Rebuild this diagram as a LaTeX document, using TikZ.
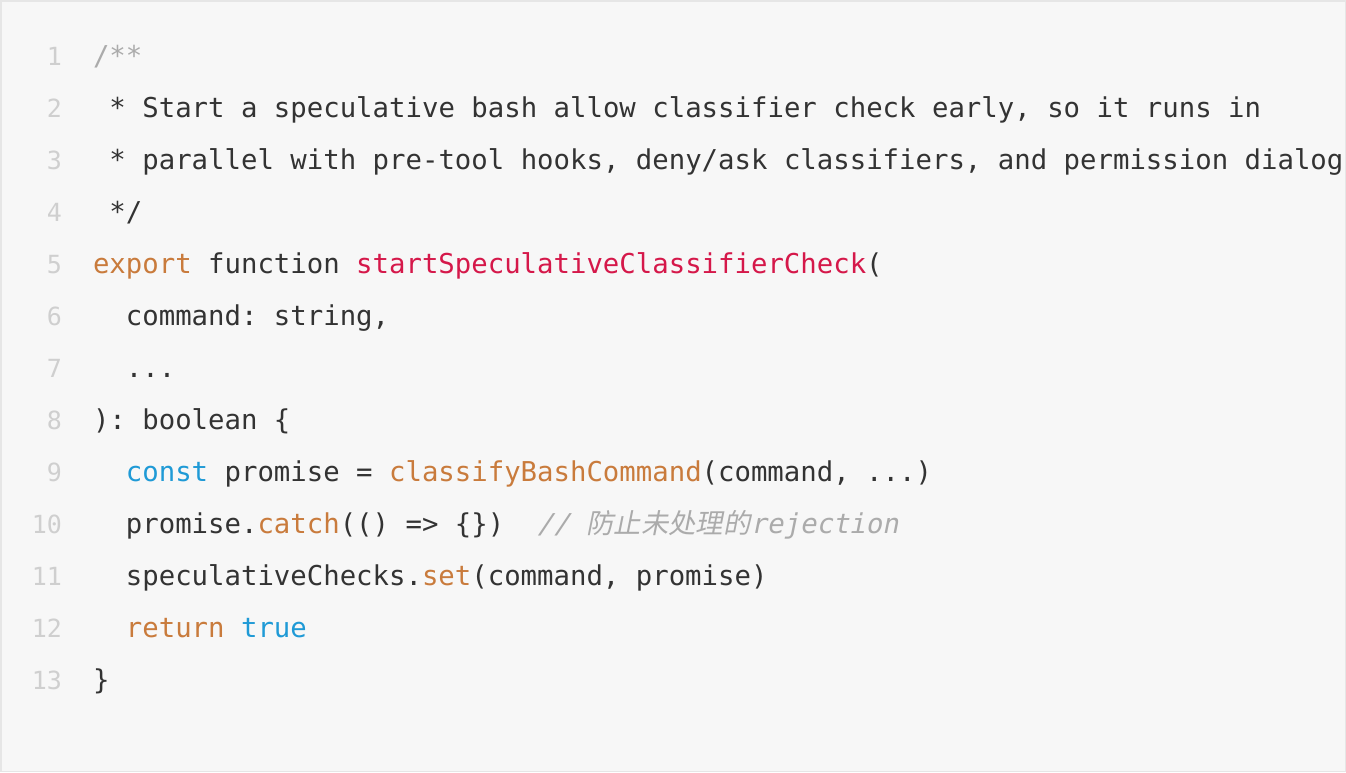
\documentclass[tikz,border=0pt]{standalone}
\usepackage{fontspec}
\newfontfamily\code{DejaVu Sans Mono}
\newfontfamily\codeit[FakeSlant=0.2]{DejaVu Sans Mono}
\newfontfamily\cjk[FakeSlant=0.2]{Noto Sans CJK SC}
\frenchspacing
\definecolor{bgc}{HTML}{F7F7F7}
\definecolor{frame}{HTML}{E6E6E6}
\definecolor{txt}{HTML}{333333}
\definecolor{lnum}{HTML}{CFCFCF}
\definecolor{cmt}{HTML}{ABABAB}
\definecolor{kwo}{HTML}{C97B3C}
\definecolor{fnr}{HTML}{D5184A}
\definecolor{kwb}{HTML}{1F9AD6}
\tikzset{
  seg/.style={anchor=base west, inner sep=0pt, outer sep=0pt, text=txt, font=\code\fontsize{27.33}{32}\selectfont\frenchspacing},
  num/.style={anchor=base east, inner sep=0pt, outer sep=0pt, text=lnum, font=\code\fontsize{25}{30}\selectfont},
}
\newcommand{\cx}[1]{93+#1*16.45}
\newcommand{\ly}[1]{65+(#1-1)*52}
\begin{document}
\begin{tikzpicture}[x=1pt,y=-1pt]
\path[use as bounding box] (0,0) rectangle (1346,772);
\begin{scope}
\clip (0,0) rectangle (1346,772);
\filldraw[fill=bgc, draw=frame, line width=1.5pt] (0.75,0.75) rectangle (1345.25,771.25);
% line numbers
\foreach \i in {1,...,13} {
  \node[num] (n\i) at (62,{\ly{\i}}) {\i};
}
% line 1
\node[seg, text=cmt] (l1) at ({\cx{0}},{\ly{1}}) {/**};
\node[seg] (l2) at ({\cx{1}},{\ly{2}}) {* Start a speculative bash allow classifier check early, so it runs in};
\node[seg] (l3) at ({\cx{1}},{\ly{3}}) {* parallel with pre-tool hooks, deny/ask classifiers, and permission dialog};
\node[seg] (l4) at ({\cx{1}},{\ly{4}}) {*/};
% line 5
\node[seg, text=kwo] (l5a) at ({\cx{0}},{\ly{5}}) {export};
\node[seg] (l5b) at ({\cx{7}},{\ly{5}}) {function};
\node[seg, text=fnr] (l5c) at ({\cx{16}},{\ly{5}}) {startSpeculativeClassifierCheck};
\node[seg] (l5d) at ({\cx{47}},{\ly{5}}) {(};
% line 6-8
\node[seg] (l6) at ({\cx{2}},{\ly{6}}) {command: string,};
\node[seg] (l7) at ({\cx{2}},{\ly{7}}) {...};
\node[seg] (l8) at ({\cx{0}},{\ly{8}}) {): boolean \{};
% line 9
\node[seg, text=kwb] (l9a) at ({\cx{2}},{\ly{9}}) {const};
\node[seg] (l9b) at ({\cx{8}},{\ly{9}}) {promise =};
\node[seg, text=kwo] (l9c) at ({\cx{18}},{\ly{9}}) {classifyBashCommand};
\node[seg] (l9d) at ({\cx{37}},{\ly{9}}) {(command, ...)};
% line 10
\node[seg] (l10a) at ({\cx{2}},{\ly{10}}) {promise.};
\node[seg, text=kwo] (l10b) at ({\cx{10}},{\ly{10}}) {catch};
\node[seg] (l10c) at ({\cx{15}},{\ly{10}}) {(() => \{\})};
\node[seg, text=cmt] (l10d) at ({\cx{27}},{\ly{10}}) {\codeit // {\cjk 防止未处理的}rejection};
% line 11
\node[seg] (l11a) at ({\cx{2}},{\ly{11}}) {speculativeChecks.};
\node[seg, text=kwo] (l11b) at ({\cx{20}},{\ly{11}}) {set};
\node[seg] (l11c) at ({\cx{23}},{\ly{11}}) {(command, promise)};
% line 12
\node[seg, text=kwo] (l12a) at ({\cx{2}},{\ly{12}}) {return};
\node[seg, text=kwb] (l12b) at ({\cx{9}},{\ly{12}}) {true};
% line 13
\node[seg] (l13) at ({\cx{0}},{\ly{13}}) {\}};
\end{scope}
\end{tikzpicture}
\end{document}
